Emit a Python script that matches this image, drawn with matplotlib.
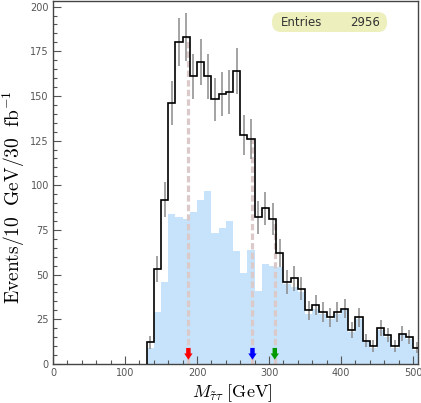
import numpy as np
import matplotlib.pyplot as plt
from matplotlib.ticker import MultipleLocator
from matplotlib.patches import FancyBboxPatch

plt.rcParams['mathtext.fontset'] = 'cm'

# histogram: 10 GeV bins from 130 to 510
bin_edges = np.arange(130, 520, 10)
signal_total = [12, 53, 92, 146, 180, 183, 161, 169, 161, 148, 151, 152, 164, 128,
                126, 82, 87, 81, 62, 46, 48, 42, 30, 33, 29, 26, 29, 31, 19, 26,
                13, 10, 20, 16, 10, 17, 15, 9]
signal_part = [9, 29, 46, 84, 82, 81, 85, 92, 97, 73, 76, 80, 63, 51,
               64, 41, 56, 55, 54, 45, 43, 40, 28, 31, 28, 25, 28, 30, 18, 25,
               12, 9, 19, 15, 9, 16, 14, 8]
cut_positions = [188, 277, 308]
cut_colors = ['#ff0000', '#0000ff', '#009a00']
entries = 2956

counts = np.array(signal_total, dtype=float)
centers = 0.5 * (bin_edges[:-1] + bin_edges[1:])

fig = plt.figure(figsize=(4.21, 4.03), dpi=100)
ax = fig.add_axes([0.126, 0.097, 0.867, 0.9])

ax.stairs(signal_part, bin_edges, fill=True, color='#c6e3fb', zorder=1)

# dashed cut lines up to the histogram
for xc in cut_positions:
    i = np.searchsorted(bin_edges, xc) - 1
    ax.plot([xc, xc], [0, counts[i]], color='#dccaca', lw=2.3,
            dashes=(2.0, 1.0), zorder=2)

ax.errorbar(centers, counts, yerr=np.sqrt(counts), fmt='none',
            ecolor='#8a8a8a', elinewidth=1.1, capsize=0, zorder=3)
ax.stairs(counts, bin_edges, color='black', lw=1.2, baseline=0, zorder=4)

for xc, c in zip(cut_positions, cut_colors):
    ax.annotate('', xy=(xc, 0.8), xytext=(xc, 10.5),
                arrowprops=dict(arrowstyle='simple,head_width=0.6,head_length=0.45,tail_width=0.32',
                                color=c, lw=0), zorder=5)

ax.set_xlim(0, 507)
ax.set_ylim(0, 203)
ax.xaxis.set_major_locator(MultipleLocator(100))
ax.xaxis.set_minor_locator(MultipleLocator(20))
ax.yaxis.set_major_locator(MultipleLocator(25))
ax.yaxis.set_minor_locator(MultipleLocator(5))
ax.tick_params(which='both', direction='in', top=False, right=False,
               labelsize=7, labelcolor='#555555', color='#555555')
ax.tick_params(which='major', length=6, width=0.8, pad=3)
ax.tick_params(which='minor', length=3, width=0.8)
for s in ax.spines.values():
    s.set_color('#444444')
    s.set_linewidth(1.0)

ax.set_xlabel(r'$M_{\tilde{\tau}\tau}\ \mathrm{[GeV]}$', fontsize=13)
ax.set_ylabel(r'$\mathrm{Events/10\ \ GeV/30\ \ fb^{-1}}$', fontsize=14)
ax.xaxis.set_label_coords(0.49, -0.05)
ax.yaxis.set_label_coords(-0.072, 0.46)

# stats box
box = FancyBboxPatch((0.6, 0.915), 0.315, 0.055, transform=ax.transAxes,
                     boxstyle='round,pad=0,rounding_size=0.025',
                     facecolor='#edf0bd', edgecolor='none', zorder=6)
ax.add_patch(box)
ax.text(0.625, 0.942, 'Entries', transform=ax.transAxes, fontsize=8.5,
        color='#333333', va='center', ha='left', zorder=7)
ax.text(0.895, 0.942, str(entries), transform=ax.transAxes, fontsize=8.5,
        color='#333333', va='center', ha='right', zorder=7)

plt.savefig('out.png', dpi=100)
